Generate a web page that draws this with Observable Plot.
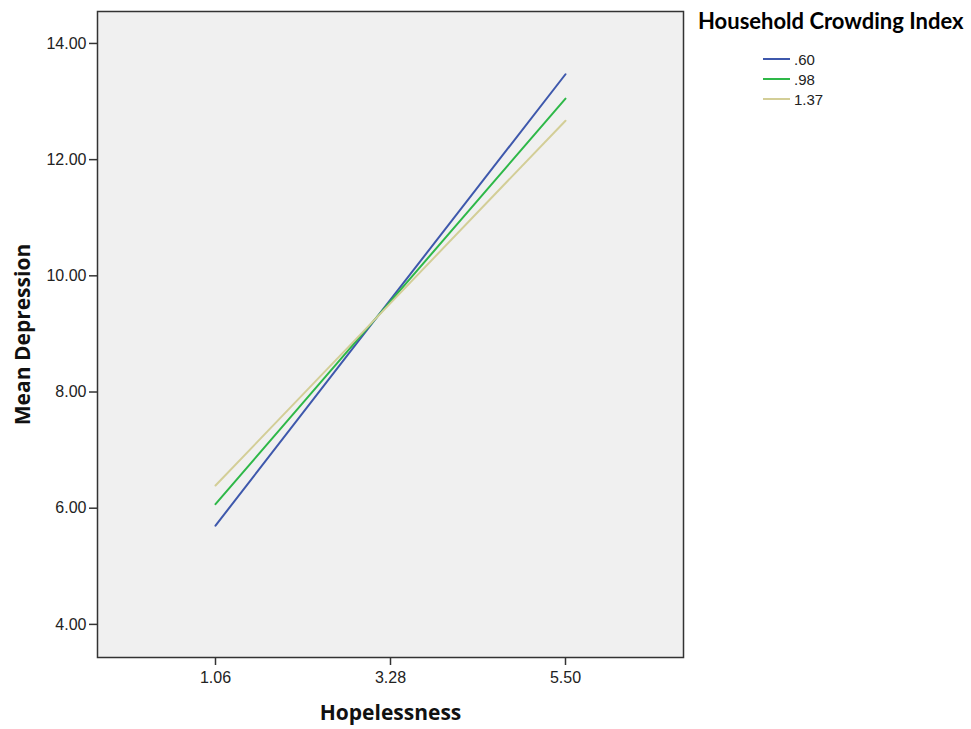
<!DOCTYPE html>
<html>
<head>
<meta charset="utf-8">
<script src="https://cdn.jsdelivr.net/npm/d3@7"></script>
<script src="https://cdn.jsdelivr.net/npm/@observablehq/plot@0.6"></script>
<style>
  body { margin: 0; background: #fff; }
  #wrap { position: relative; width: 971px; height: 729px; }
  g[aria-label="y-axis label"] text, g[aria-label="x-axis label"] text {
    font-family: "Open Sans", "DejaVu Sans", sans-serif !important;
    font-weight: 700 !important;
    font-size: 21px !important;
    fill: #111;
  }
  #legend { position: absolute; left: 698px; top: 7px; font-family: "Liberation Sans", Arial, sans-serif; }
  #legend .title { font-family: Lato, "DejaVu Sans", sans-serif; font-weight: 700; font-size: 22px; color: #000; white-space: nowrap; }
  #legend .item { display: flex; align-items: center; height: 20px; margin-left: 65px; font-size: 15px; color: #222; }
  #legend .swatch { width: 27px; height: 2px; margin-right: 4px; }
</style>
</head>
<body>
<div id="wrap"></div>
<script>
// Data
const hopelessness = ["1.06", "3.28", "5.50"];
const crowdingLevels = [".60", ".98", "1.37"];
const depressionAt060 = [5.70, 9.59, 13.47];
const depressionAt098 = [6.07, 9.56, 13.05];
const depressionAt137 = [6.39, 9.53, 12.67];
const yTicks = [4, 6, 8, 10, 12, 14];

const seriesValues = [depressionAt060, depressionAt098, depressionAt137];
const rows = [];
crowdingLevels.forEach((c, i) => {
  hopelessness.forEach((h, j) => rows.push({crowding: c, hopelessness: h, depression: seriesValues[i][j]}));
});

const palette = ["#3E58AC", "#2EB848", "#D3CE97"];

const chart = Plot.plot({
  width: 971,
  height: 729,
  marginLeft: 97,
  marginTop: 11,
  marginRight: 288,
  marginBottom: 72,
  style: {fontFamily: "'Liberation Sans', Arial, sans-serif", fontSize: "16px", color: "#222", background: "#fff"},
  x: {type: "point", domain: hopelessness, padding: 0.665},
  y: {domain: [3.43, 14.55]},
  color: {domain: crowdingLevels, range: palette},
  marks: [
    Plot.frame({fill: "#f0f0f0"}),
    Plot.line(rows, {x: "hopelessness", y: "depression", z: "crowding", stroke: "crowding", strokeWidth: 2}),
    Plot.frame({stroke: "#333", strokeWidth: 1.5}),
    Plot.axisY({ticks: yTicks, tickFormat: d => d.toFixed(2), tickSize: 8, tickPadding: 3, fontSize: 16, stroke: "#333", strokeWidth: 1.5,
      label: "Mean Depression", labelAnchor: "center", labelOffset: 82, labelArrow: "none"}),
    Plot.axisX({tickSize: 8, tickPadding: 6, fontSize: 16, stroke: "#333", strokeWidth: 1.5,
      label: "Hopelessness", labelAnchor: "center", labelOffset: 62, labelArrow: "none"})
  ]
});
document.getElementById("wrap").appendChild(chart);

// Legend built from the series names
const legend = document.createElement("div");
legend.id = "legend";
const title = document.createElement("div");
title.className = "title";
title.textContent = "Household Crowding Index";
legend.appendChild(title);
const spacer = document.createElement("div");
spacer.style.height = "15px";
legend.appendChild(spacer);
crowdingLevels.forEach((c, i) => {
  const item = document.createElement("div");
  item.className = "item";
  const sw = document.createElement("span");
  sw.className = "swatch";
  sw.style.background = palette[i];
  const t = document.createElement("span");
  t.textContent = c;
  item.appendChild(sw); item.appendChild(t);
  legend.appendChild(item);
});
document.getElementById("wrap").appendChild(legend);
</script>
</body>
</html>
